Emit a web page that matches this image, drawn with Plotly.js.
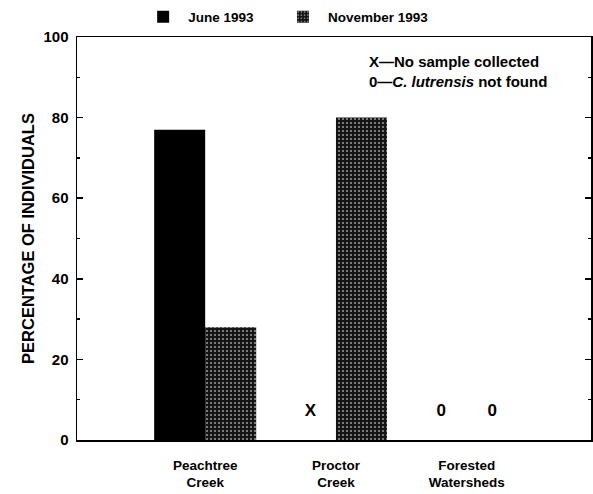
<!DOCTYPE html>
<html><head><meta charset="utf-8">
<script src="https://cdn.plot.ly/plotly-3.0.1.min.js"></script>
<style>html,body{margin:0;padding:0;background:#fff}#chart{width:593px;height:494px}</style>
</head><body><div id="chart"></div>
<script>
const categories = ["Peachtree<br>Creek", "Proctor<br>Creek", "Forested<br>Watersheds"];
const june1993 = [77, null, 0];
const november1993 = [28, 80, 0];
const juneMarks = ["", "X", "0"];
const novMarks = ["", "", "0"];
const yTicks = [0, 20, 40, 60, 80, 100];

const idx = categories.map((c, i) => i);
const barGap = 0.22;
const barW = (1 - barGap) / 2;
const markY = 7;

const font = "Arial, 'Liberation Sans', sans-serif";

const traces = [
  {type: 'bar', name: '<b>June 1993</b>', x: idx, y: june1993, legend: 'legend',
   marker: {color: '#000', line: {width: 0}}, hoverinfo: 'skip'},
  {type: 'bar', name: '<b>November 1993</b>', x: idx, y: november1993, legend: 'legend2',
   marker: {color: '#1a1a1a', line: {width: 0},
     pattern: {shape: '.', fgcolor: '#9a9a9a', bgcolor: '#151515', size: 4, solidity: 0.2}},
   hoverinfo: 'skip'},
  {type: 'scatter', mode: 'text', showlegend: false, hoverinfo: 'skip',
   x: idx.map(i => i - barW / 2), y: idx.map(() => markY), text: juneMarks.map(t => t ? '<b>' + t + '</b>' : ''),
   textfont: {family: font, size: 17, color: '#000'}},
  {type: 'scatter', mode: 'text', showlegend: false, hoverinfo: 'skip',
   x: idx.map(i => i + barW / 2), y: idx.map(() => markY), text: novMarks.map(t => t ? '<b>' + t + '</b>' : ''),
   textfont: {family: font, size: 17, color: '#000'}}
];

const legendBase = {orientation: 'h', xanchor: 'left', yref: 'container', y: 0.997, yanchor: 'top',
  bgcolor: 'rgba(0,0,0,0)', font: {family: font, size: 13.5}, itemwidth: 40};

const layout = {
  width: 593, height: 494,
  margin: {l: 77, r: 2, t: 37, b: 54, autoexpand: false},
  paper_bgcolor: '#fff', plot_bgcolor: '#fff',
  font: {family: font, color: '#000'},
  barmode: 'group', bargap: barGap, bargroupgap: 0,
  showlegend: true,
  legend: Object.assign({}, legendBase, {x: 0.119}),
  legend2: Object.assign({}, legendBase, {x: 0.391}),
  xaxis: {range: [-0.98, 2.95], tickmode: 'array', tickvals: idx,
    ticktext: categories.map(c => '<b>' + c.replace('<br>', '</b><br><b>') + '</b>'),
    showgrid: false, zeroline: false, showline: true, linecolor: '#000', linewidth: 1.5,
    mirror: true, ticks: '', ticklabelstandoff: 12,
    tickfont: {family: font, size: 13.5}, fixedrange: true},
  yaxis: {range: [0, 100], tickmode: 'array', tickvals: yTicks,
    ticktext: yTicks.map(v => '<b>' + v + '</b>'),
    showgrid: false, zeroline: false, showline: true, linecolor: '#000', linewidth: 1.5,
    mirror: 'ticks', ticks: 'inside', ticklen: 6, tickcolor: '#000', tickwidth: 1.5,
    minor: {dtick: 10, ticks: 'inside', ticklen: 3, tickcolor: '#000'},
    ticklabelstandoff: 4,
    tickfont: {family: font, size: 15},
    title: {text: '<b>PERCENTAGE OF INDIVIDUALS</b>', standoff: 4,
      font: {family: font, size: 16.5}}, fixedrange: true},
  annotations: [
    {xref: 'paper', yref: 'paper', x: 0.565, y: 0.966, xanchor: 'left', yanchor: 'top',
     align: 'left', showarrow: false,
     text: '<b>X\u2014No sample collected</b><br><b>0\u2014<i>C. lutrensis</i> not found</b>',
     font: {family: font, size: 15, color: '#000'}}
  ]
};

Plotly.newPlot('chart', traces, layout, {displayModeBar: false, staticPlot: true});
</script></body></html>
